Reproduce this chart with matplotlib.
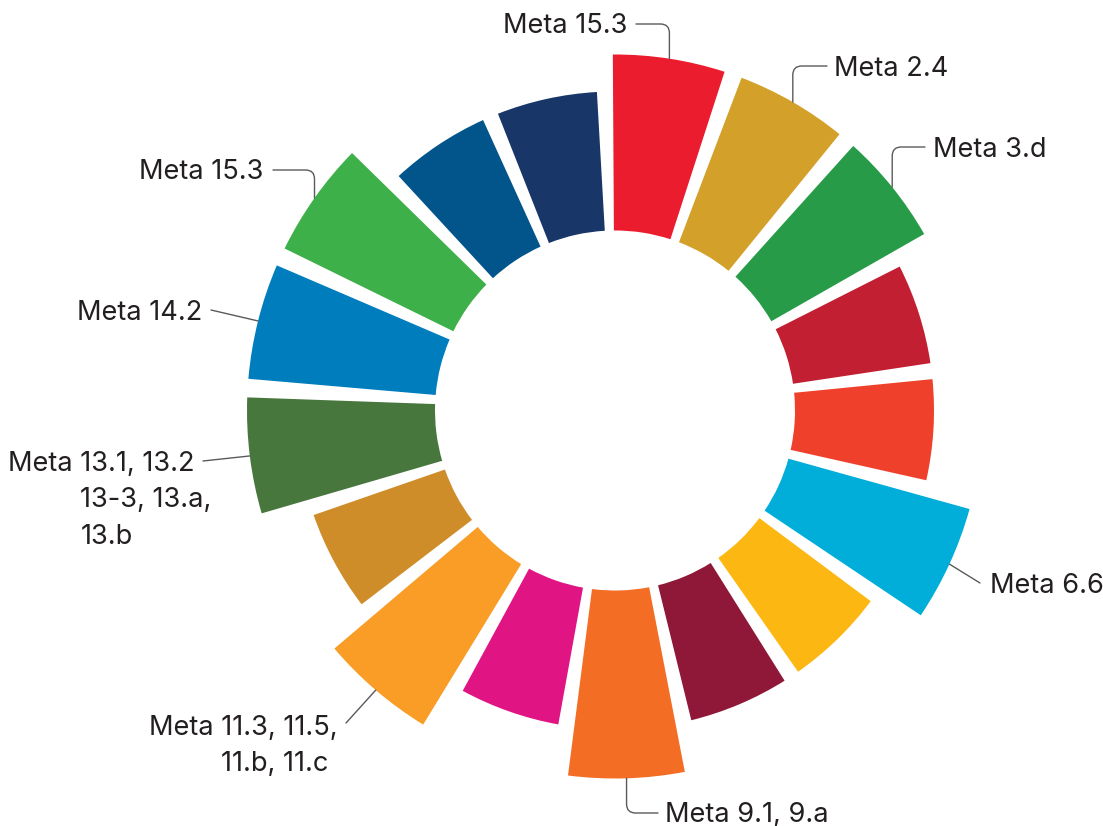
import numpy as np
import matplotlib.pyplot as plt
from matplotlib.patches import Wedge

# one wedge per SDG, clockwise from 12 o'clock
goals = list(range(1, 18))
colors = ['#EB1C2D', '#D3A029', '#279B48', '#C31F33', '#EF402B', '#00AED9',
          '#FDB713', '#8F1838', '#F36D25', '#E11484', '#F99D26', '#CF8D2A',
          '#48773E', '#007DBC', '#3EB049', '#02558B', '#183668']
# outer reach of every wedge (inner hole = 180)
reach = [356, 356, 356, 319, 319, 368, 319, 319, 368, 319, 368, 319,
         368, 368, 368, 319, 319]

label_goals = [1, 2, 3, 6, 9, 11, 13, 14, 15]
label_texts = [['Meta 15.3'], ['Meta 2.4'], ['Meta 3.d'], ['Meta 6.6'],
               ['Meta 9.1, 9.a'], ['Meta 11.3, 11.5,', '11.b, 11.c'],
               ['Meta 13.1, 13.2', '13-3, 13.a,', '13.b'], ['Meta 14.2'],
               ['Meta 15.3']]

# layout (pixels): text x, baseline y, ha, connector start, elbow or straight
layout = {
    1: (627, 33, 'right', (636, 24), True),
    2: (834, 76, 'left', (827, 66), True),
    3: (933, 157, 'left', (925, 147), True),
    6: (990, 593, 'left', (980, 583), False),
    9: (665, 822, 'left', (658, 813), True),
    11: (149, 735, 'left', (346, 723), False),
    13: (8, 471, 'left', (203, 461), False),
    14: (202, 320, 'right', (211, 310), False),
    15: (263, 179, 'right', (273, 170), True),
}

cx, cy = 615, 410.5
hole = 180
gap_deg = 2.9
start = -1.8
step = 360 / len(goals)

plt.rcParams['font.family'] = ['Inter', 'DejaVu Sans']
fig = plt.figure(figsize=(11.03, 8.26), dpi=100)
ax = fig.add_axes([0, 0, 1, 1])
ax.set_xlim(0, 1103)
ax.set_ylim(826, 0)
ax.set_aspect('equal')
ax.axis('off')

for i, g in enumerate(goals):
    # phi: clockwise from top; y axis is inverted so theta = phi - 90
    t1 = start + i * step + gap_deg / 2 - 90
    t2 = start + (i + 1) * step - gap_deg / 2 - 90
    w = Wedge((cx, cy), reach[i], t1, t2, width=reach[i] - hole,
              facecolor=colors[i], edgecolor='none')
    ax.add_patch(w)

txt_kw = dict(fontsize=19.6, color='#231F20', va='baseline')
renderer = fig.canvas.get_renderer()
for g, lines in zip(label_goals, label_texts):
    x, y, ha, p0, elbow = layout[g]
    phi = np.deg2rad(start + (g - 0.5) * step)
    end = (cx + reach[g - 1] * np.sin(phi), cy - reach[g - 1] * np.cos(phi))
    ax.text(x, y, lines[0], ha=ha, **txt_kw)
    if len(lines) > 1:
        # hanging indent under the number after "Meta "
        m = ax.text(x, y, 'Meta ', ha='left', **txt_kw)
        bb = m.get_window_extent(renderer)
        m.remove()
        x2 = x + bb.width
        for k, ln in enumerate(lines[1:], 1):
            ax.text(x2, y + 36.5 * k, ln, ha='left', **txt_kw)
    if elbow:
        cs = 'angle,angleA=0,angleB=90,rad=9'
    else:
        cs = 'arc3,rad=0'
    ax.annotate('', xy=end, xytext=p0,
                arrowprops=dict(arrowstyle='-', color='#5A5A5A', lw=1.0,
                                connectionstyle=cs, shrinkA=0, shrinkB=0))

fig.savefig('out.png', dpi=100)
